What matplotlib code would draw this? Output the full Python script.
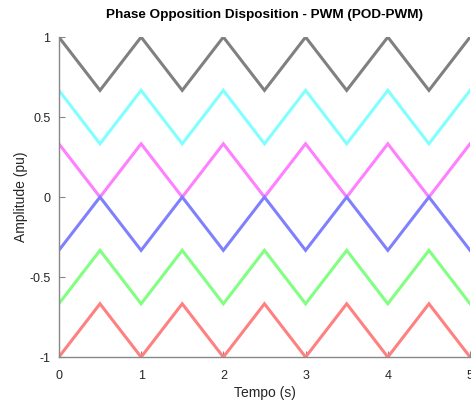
import matplotlib
matplotlib.use("Agg")
import matplotlib.pyplot as plt

plt.rcParams['font.family'] = ['Liberation Sans', 'DejaVu Sans']

t = [0, 0.5, 1, 1.5, 2, 2.5, 3, 3.5, 4, 4.5, 5]
carrier_gray = [1, 0.667, 1, 0.667, 1, 0.667, 1, 0.667, 1, 0.667, 1]
carrier_cyan = [0.667, 0.333, 0.667, 0.333, 0.667, 0.333, 0.667, 0.333, 0.667, 0.333, 0.667]
carrier_magenta = [0.333, 0, 0.333, 0, 0.333, 0, 0.333, 0, 0.333, 0, 0.333]
carrier_blue = [-0.333, 0, -0.333, 0, -0.333, 0, -0.333, 0, -0.333, 0, -0.333]
carrier_green = [-0.667, -0.333, -0.667, -0.333, -0.667, -0.333, -0.667, -0.333, -0.667, -0.333, -0.667]
carrier_red = [-1, -0.667, -1, -0.667, -1, -0.667, -1, -0.667, -1, -0.667, -1]

series = [
    (carrier_gray, '#808080'),
    (carrier_cyan, '#80ffff'),
    (carrier_magenta, '#ff80ff'),
    (carrier_blue, '#8080ff'),
    (carrier_green, '#80ff80'),
    (carrier_red, '#ff8080'),
]

fig = plt.figure(figsize=(4.71, 4.03), dpi=100)
ax = fig.add_axes([0.125, 0.114, 0.873, 0.794])
for vals, c in series:
    ax.plot(t, vals, color=c, lw=2.2, solid_joinstyle='miter')

ax.set_xlim(0, 5)
ax.set_ylim(-1, 1)
ax.set_xticks([0, 1, 2, 3, 4, 5])
ax.set_xticklabels(['0', '1', '2', '3', '4', '5'])
ax.set_yticks([-1, -0.5, 0, 0.5, 1])
ax.set_yticklabels(['-1', '-0.5', '0', '0.5', '1'])
ax.spines['top'].set_visible(False)
ax.spines['right'].set_visible(False)
for s in ['left', 'bottom']:
    ax.spines[s].set_color('#888888')
    ax.spines[s].set_linewidth(1.0)
ax.tick_params(direction='in', length=4, color='#888888', labelsize=9, labelcolor='#262626')
ax.tick_params(axis='x', pad=9)
ax.tick_params(axis='y', pad=6)
ax.set_xlabel('Tempo (s)', fontsize=10, color='#262626', labelpad=3)
ax.set_ylabel('Amplitude (pu)', fontsize=10, color='#262626', labelpad=1)
ax.set_title('Phase Opposition Disposition - PWM (POD-PWM)', fontsize=9.7, fontweight='bold', pad=14)

fig.savefig('out.png', dpi=100)
